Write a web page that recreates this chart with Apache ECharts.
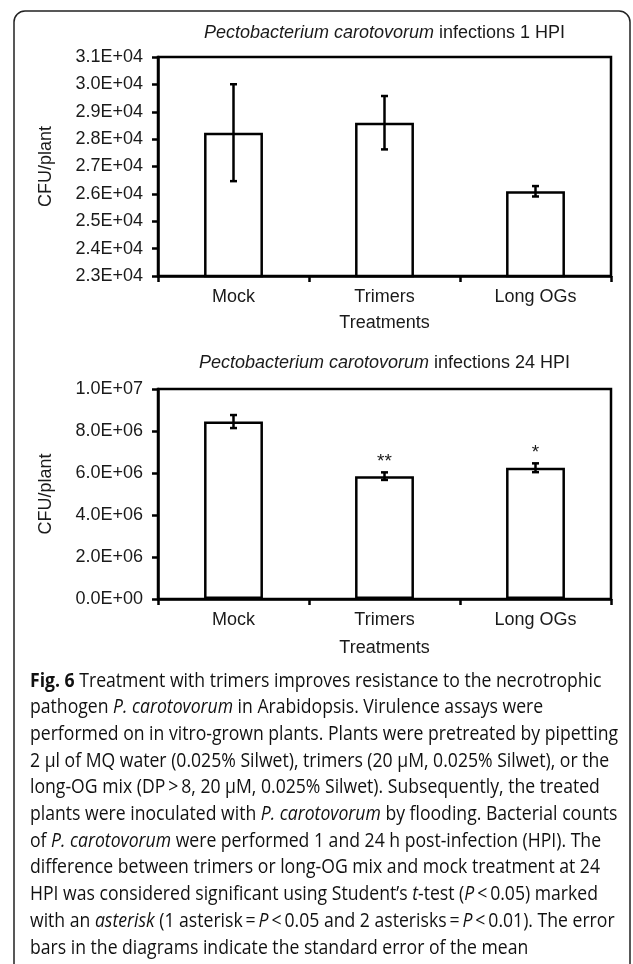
<!DOCTYPE html>
<html>
<head>
<meta charset="utf-8">
<script src="https://cdn.jsdelivr.net/npm/echarts@6/dist/echarts.min.js"></script>
<style>
html,body{margin:0;padding:0;background:#fff;}
#c{width:633px;height:964px;}
</style>
</head>
<body>
<div id="c"></div>
<script>
// ---- data ----
const categories = ['Mock', 'Trimers', 'Long OGs'];
const cfu1h = [28235, 28600, 26095];
const se1h = [1770, 975, 190];
const cfu24h = [8450000, 5850000, 6250000];
const se24h = [310000, 180000, 210000];
const sig24h = ['', '**', '*'];
const yTicks1h = ['2.3E+04', '2.4E+04', '2.5E+04', '2.6E+04', '2.7E+04', '2.8E+04', '2.9E+04', '3.0E+04', '3.1E+04'];
const yTicks24h = ['0.0E+00', '2.0E+06', '4.0E+06', '6.0E+06', '8.0E+06', '1.0E+07'];
const title1h = '{i|Pectobacterium carotovorum} infections 1 HPI';
const title24h = '{i|Pectobacterium carotovorum} infections 24 HPI';
const captionLines = [
  '{b|Fig. 6} Treatment with trimers improves resistance to the necrotrophic',
  'pathogen {i|P. carotovorum} in Arabidopsis. Virulence assays were',
  'performed on in vitro-grown plants. Plants were pretreated by pipetting',
  '2 µl of MQ water (0.025% Silwet), trimers (20 µM, 0.025% Silwet), or the',
  'long-OG mix (DP\u2009>\u20098, 20 µM, 0.025% Silwet). Subsequently, the treated',
  'plants were inoculated with {i|P. carotovorum} by flooding. Bacterial counts',
  'of {i|P. carotovorum} were performed 1 and 24 h post-infection (HPI). The',
  'difference between trimers or long-OG mix and mock treatment at 24',
  'HPI was considered significant using Student\u2019s {i|t}-test ({i|P}\u2009<\u20090.05) marked',
  'with an {i|asterisk} (1 asterisk\u2009=\u2009{i|P}\u2009<\u20090.05 and 2 asterisks\u2009=\u2009{i|P}\u2009<\u20090.01). The error',
  'bars in the diagrams indicate the standard error of the mean'
];

// ---- styles ----
const FONT = '"Liberation Sans", Arial, sans-serif';
const CAPFONT = '"Open Sans", "Noto Sans", sans-serif';
const CAPSIZE = 19.5;
const TXT = '#1a1a1a';
const AX = '#000';

function tickFmt(labels, min, step) {
  return function (v) {
    const i = Math.round((v - min) / step);
    return labels[i] !== undefined ? labels[i] : '';
  };
}

function errRender(sig) {
  return function (params, api) {
    const x = api.value(0), y = api.value(1), e = api.value(2);
    const hi = api.coord([x, y + e]);
    const lo = api.coord([x, y - e]);
    const cap = 3.5;
    const st = { stroke: AX, lineWidth: 2.5 };
    const children = [
      { type: 'line', shape: { x1: hi[0], y1: hi[1], x2: lo[0], y2: lo[1] }, style: st },
      { type: 'line', shape: { x1: hi[0] - cap, y1: hi[1], x2: hi[0] + cap, y2: hi[1] }, style: st },
      { type: 'line', shape: { x1: lo[0] - cap, y1: lo[1], x2: lo[0] + cap, y2: lo[1] }, style: st }
    ];
    const s = sig ? sig[params.dataIndex] : '';
    if (s) {
      children.push({
        type: 'text', x: hi[0], y: hi[1] - 11,
        style: { text: s, fill: TXT, font: '19px ' + FONT, align: 'center', verticalAlign: 'middle' }
      });
    }
    return { type: 'group', children: children };
  };
}

// horizontal condensing factor so the caption wraps like the original (longest line ~588px)
function captionScale() {
  const ctx = document.createElement('canvas').getContext('2d');
  ctx.font = CAPSIZE + 'px ' + CAPFONT;
  const plain = captionLines[2].replace(/\{[a-z]\|([^}]*)\}/g, '$1');
  const w = ctx.measureText(plain).width;
  return w > 0 ? Math.min(1, 588 / w) : 1;
}

const chart = echarts.init(document.getElementById('c'), null, { renderer: 'canvas' });

const grids = [
  { left: 158, top: 57, width: 453, height: 219 },
  { left: 158, top: 389, width: 453, height: 210 }
];

function xAxisCfg(gi, gap) {
  return {
    type: 'category', gridIndex: gi, data: categories,
    name: 'Treatments', nameLocation: 'middle', nameGap: gap,
    nameTextStyle: { color: TXT, fontSize: 18, fontFamily: FONT },
    axisLine: { lineStyle: { color: AX, width: 2.5 } },
    axisTick: { show: true, length: 6, lineStyle: { color: AX, width: 2.5 } },
    axisLabel: { color: TXT, fontSize: 18, fontFamily: FONT, margin: 12 },
    splitLine: { show: false }
  };
}
function yAxisCfg(gi, min, max, step, labels) {
  return {
    type: 'value', gridIndex: gi, min: min, max: max, interval: step,
    name: 'CFU/plant', nameLocation: 'middle', nameGap: 103,
    nameTextStyle: { color: TXT, fontSize: 18, fontFamily: FONT },
    axisLine: { show: true, lineStyle: { color: AX, width: 2.5 } },
    axisTick: { show: true, length: 6, lineStyle: { color: AX, width: 2.5 } },
    axisLabel: { color: TXT, fontSize: 18, fontFamily: FONT, margin: 15, formatter: tickFmt(labels, min, step) },
    splitLine: { show: false }
  };
}

const graphics = [
  { type: 'rect', shape: { x: 14, y: 11, width: 616, height: 1000, r: 11 },
    style: { fill: 'none', stroke: '#222', lineWidth: 1.5 }, z: 0 },
  { type: 'text', x: 384.5, y: 33,
    style: { text: title1h, fill: TXT, font: '18px ' + FONT, align: 'center', verticalAlign: 'middle',
      rich: { i: { fontStyle: 'italic', fontSize: 18, fontFamily: FONT, fill: TXT } } } },
  { type: 'text', x: 384.5, y: 363,
    style: { text: title24h, fill: TXT, font: '18px ' + FONT, align: 'center', verticalAlign: 'middle',
      rich: { i: { fontStyle: 'italic', fontSize: 18, fontFamily: FONT, fill: TXT } } } }
];
const capY0 = 681, capStep = 26.7;
const sx = captionScale();
captionLines.forEach(function (line, k) {
  graphics.push({
    type: 'text', x: 30, y: capY0 + k * capStep, scaleX: sx,
    style: {
      text: line, fill: '#111', font: CAPSIZE + 'px ' + CAPFONT, align: 'left', verticalAlign: 'middle',
      rich: {
        b: { fontWeight: 'bold', fontSize: CAPSIZE, fontFamily: CAPFONT, fill: '#111' },
        i: { fontStyle: 'italic', fontSize: CAPSIZE, fontFamily: CAPFONT, fill: '#111' }
      }
    }
  });
});

const option = {
  backgroundColor: '#fff',
  animation: false,
  grid: grids.map(function (g) {
    return Object.assign({ show: true, borderColor: AX, borderWidth: 2.5, backgroundColor: 'transparent' }, g);
  }),
  xAxis: [xAxisCfg(0, 38), xAxisCfg(1, 40)],
  yAxis: [yAxisCfg(0, 23000, 31000, 1000, yTicks1h), yAxisCfg(1, 0, 10000000, 2000000, yTicks24h)],
  series: [
    { type: 'bar', xAxisIndex: 0, yAxisIndex: 0, data: cfu1h, barWidth: '39%',
      itemStyle: { color: '#fff', borderColor: AX, borderWidth: 2.5 } },
    { type: 'custom', xAxisIndex: 0, yAxisIndex: 0, renderItem: errRender(null),
      data: cfu1h.map(function (v, i) { return [i, v, se1h[i]]; }), z: 5 },
    { type: 'bar', xAxisIndex: 1, yAxisIndex: 1, data: cfu24h, barWidth: '39%',
      itemStyle: { color: '#fff', borderColor: AX, borderWidth: 2.5 } },
    { type: 'custom', xAxisIndex: 1, yAxisIndex: 1, renderItem: errRender(sig24h),
      data: cfu24h.map(function (v, i) { return [i, v, se24h[i]]; }), z: 5 }
  ],
  graphic: graphics
};
chart.setOption(option);
</script>
</body>
</html>
